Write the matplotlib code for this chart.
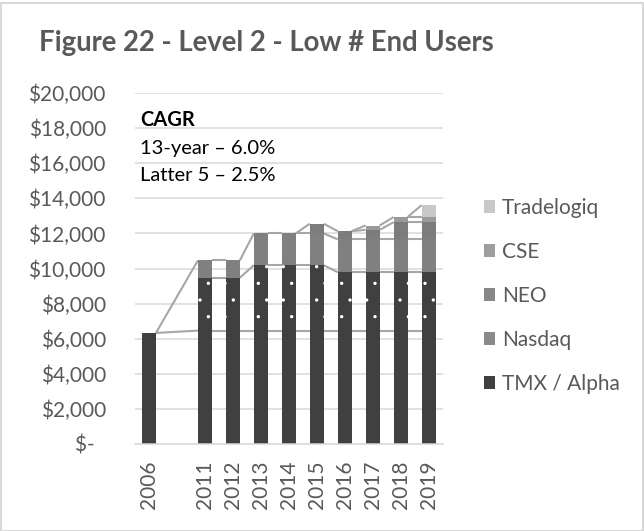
import numpy as np
import matplotlib

matplotlib.use("Agg")
import matplotlib.pyplot as plt
from matplotlib.patches import Patch, Rectangle
from matplotlib.ticker import FuncFormatter


# values (dollars); nan = series not present that year
YEARS = ["2006", "", "2011", "2012", "2013", "2014", "2015", "2016", "2017", "2018", "2019"]
TMX = [6330, np.nan, 6460, 6460, 6460, 6460, 6460, 6460, 6460, 6460, 6460]
ALPHA = [np.nan, np.nan, 3010, 3010, 3730, 3730, 3730, 3330, 3330, 3330, 3330]
NASDAQ = [0, np.nan, 990, 990, 1810, 1810, 1810, 1870, 1870, 1870, 1870]
NEO = [np.nan, np.nan, np.nan, np.nan, np.nan, 0, 550, 470, 540, 980, 980]
CSE = [np.nan, np.nan, np.nan, np.nan, np.nan, np.nan, np.nan, 0, 250, 290, 290]
TRADELOGIQ = [np.nan, np.nan, np.nan, np.nan, np.nan, np.nan, np.nan, np.nan, np.nan, 0, 680]

CAGR_LINES = ["13-year \u2013 6.0%", "Latter 5 \u2013 2.5%"]

FONT = "Lato"
TEXT_COLOR = "#595959"
GRID_COLOR = "#d9d9d9"
SERIES_LINE_COLOR = "#a6a6a6"
DARK = "#404040"

SERIES = [
    ("TMX", TMX, DARK, None),
    ("Alpha", ALPHA, DARK, "."),
    ("Nasdaq", NASDAQ, "#808080", None),
    ("NEO", NEO, "#7c7c7c", None),
    ("CSE", CSE, "#9a9a9a", None),
    ("Tradelogiq", TRADELOGIQ, "#c8c8c8", None),
]
LEGEND_ITEMS = [
    ("Tradelogiq", "#c8c8c8"),
    ("CSE", "#9e9e9e"),
    ("NEO", "#878787"),
    ("Nasdaq", "#8a8a8a"),
    ("TMX / Alpha", DARK),
]

W, H = 644, 531
BAR_WIDTH = 0.5


def money(value, _pos):
    if value == 0:
        return "$-  "
    return f"${value:,.0f}"


def main():
    plt.rcParams["font.family"] = [FONT, "DejaVu Sans"]
    plt.rcParams["hatch.linewidth"] = 0.0

    fig = plt.figure(figsize=(W / 100, H / 100), dpi=100)
    ax = fig.add_axes([135 / W, 1 - 444 / H, 307.5 / W, 351 / H])

    x = np.arange(len(YEARS))
    present = [i for i, v in enumerate(TMX) if np.isfinite(v)]

    bottom = np.zeros(len(YEARS))
    for name, values, color, hatch in SERIES:
        vals = np.asarray(values, dtype=float)
        filled = np.nan_to_num(vals)
        top = bottom + filled
        ax.bar(
            x, filled, BAR_WIDTH, bottom=bottom, color=color,
            edgecolor="white" if hatch else color, linewidth=0,
            hatch=hatch, zorder=2,
        )
        # Excel-style series lines between neighbouring bars
        for i, j in zip(present[:-1], present[1:]):
            if np.isfinite(vals[i]) and np.isfinite(vals[j]):
                ax.plot(
                    [x[i] + BAR_WIDTH / 2, x[j] - BAR_WIDTH / 2], [top[i], top[j]],
                    color=SERIES_LINE_COLOR, linewidth=1.5, zorder=1,
                    solid_capstyle="butt",
                )
        bottom = top

    ax.set_xlim(-0.5, len(YEARS) - 0.5)
    ax.set_ylim(0, 20000)
    ax.set_yticks(np.arange(0, 20001, 2000))
    ax.yaxis.set_major_formatter(FuncFormatter(money))
    ax.set_xticks(x)
    ax.set_xticklabels(YEARS, rotation=90)
    ax.tick_params(axis="y", length=0, pad=21, labelsize=15, labelcolor=TEXT_COLOR)
    ax.tick_params(axis="x", length=0, pad=12, labelsize=15, labelcolor=TEXT_COLOR)
    ax.grid(axis="y", color=GRID_COLOR, linewidth=1.1, zorder=0)
    ax.set_axisbelow(True)
    for side in ["top", "right", "left"]:
        ax.spines[side].set_visible(False)
    ax.spines["bottom"].set_color(GRID_COLOR)
    ax.spines["bottom"].set_linewidth(1.1)

    fig.text(39 / W, 1 - 51 / H, "Figure 22 - Level 2 - Low # End Users",
             fontsize=19.8, fontweight="bold", color=TEXT_COLOR, va="baseline")

    fig.text(140 / W, 1 - 126.5 / H, "CAGR", fontsize=14.5, fontweight="bold",
             color="black", va="baseline")
    for k, line in enumerate(CAGR_LINES):
        fig.text(140 / W, 1 - (154 + 27 * k) / H, line, fontsize=14.5,
                 color="black", va="baseline")

    handles = [Patch(facecolor=c, edgecolor="none") for _, c in LEGEND_ITEMS]
    labels = [name for name, _ in LEGEND_ITEMS]
    fig.legend(
        handles, labels, loc="upper left",
        bbox_to_anchor=(484 / W, 1 - 198 / H), bbox_transform=fig.transFigure,
        frameon=False, fontsize=15, labelcolor=TEXT_COLOR,
        handlelength=0.55, handleheight=0.55, handletextpad=0.3,
        labelspacing=1.15, borderpad=0, borderaxespad=0,
    )

    fig.patches.append(Rectangle((0.5 / W, 0.5 / H), 1 - 2 / W, 1 - 3 / H,
                                 transform=fig.transFigure, fill=False,
                                 edgecolor=GRID_COLOR, linewidth=1.5))

    fig.savefig("out.png", dpi=100)
    plt.close(fig)


if __name__ == "__main__":
    main()
